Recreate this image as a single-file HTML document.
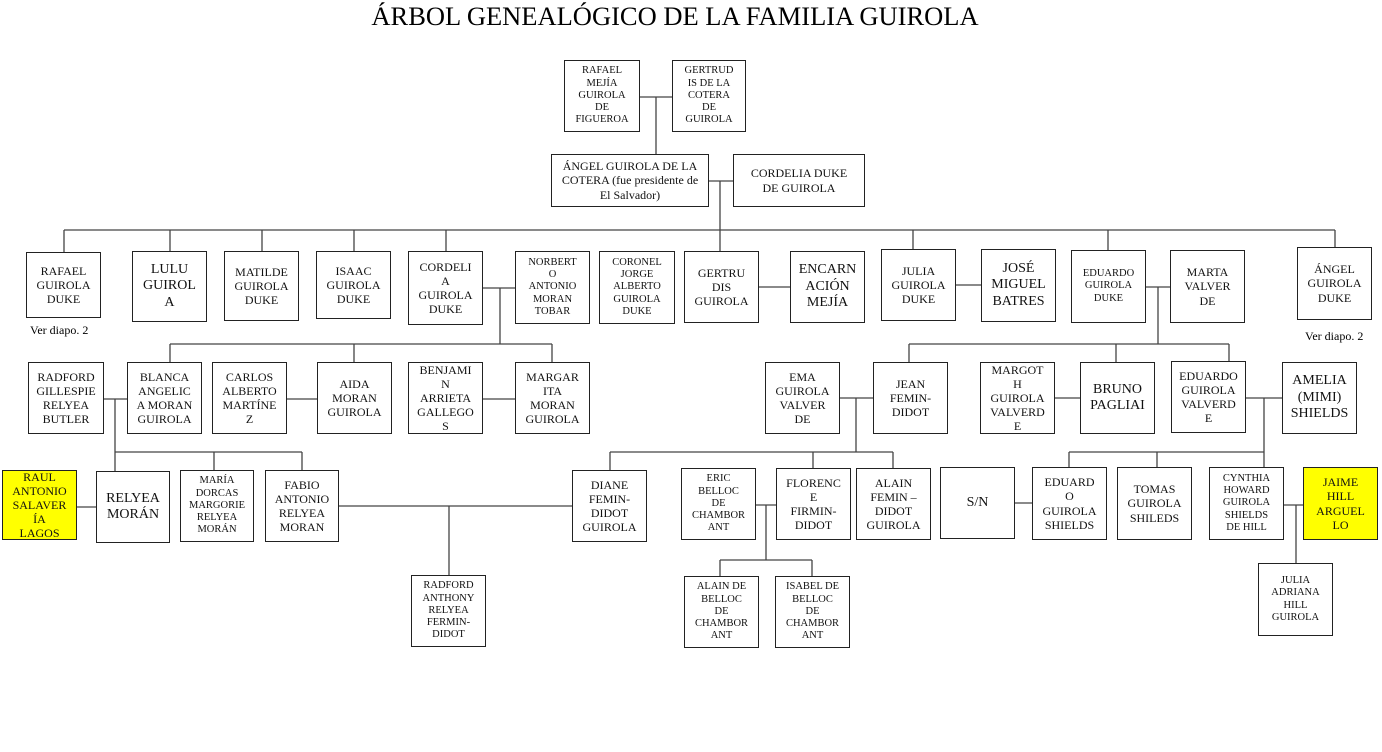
<!DOCTYPE html>
<html><head><meta charset="utf-8"><style>
body{margin:0;width:1382px;height:752px;background:#fff;position:relative;overflow:hidden;font-family:"Liberation Serif",serif;}
.b{position:absolute;box-sizing:border-box;border:1.5px solid #222;display:flex;align-items:center;justify-content:center;text-align:center;font-size:12px;line-height:1.17;color:#111;background:#fff;}
.y{background:#ffff00;}
.l{font-size:14px;}
.s{font-size:10.5px;}
.t{position:absolute;font-size:12px;}
svg{position:absolute;left:0;top:0;}
</style></head><body>
<div style="position:absolute;left:0;width:1350px;top:1px;text-align:center;font-size:26.5px;">ÁRBOL GENEALÓGICO DE LA FAMILIA GUIROLA</div>
<svg width="1382" height="752" stroke="#444" stroke-width="1.3" fill="none">
<path d="M640 97H672M656 97V154M709 181H733M720 181V230M64 230H1335M64 230V252M170 230V251M262 230V251M354 230V251M446 230V251M720 230V251M913 230V249M1108 230V250M1335 230V247"/>
<path d="M483 288H515M500 288V344M170 344H552M170 344V362M354 344V362M552 344V362"/>
<path d="M759 287H790M956 285H981M1146 287H1170M1158 287V344M909 344H1229M909 344V362M1116 344V362M1229 344V361"/>
<path d="M104 399H127M287 399H317M483 399H515M115 399V471M115 452H302M214 452V470M302 452V470M77 507H96"/>
<path d="M339 506H572M449 506V575"/>
<path d="M840 398H873M856 398V452M610 452H893M610 452V470M813 452V468M893 452V468M1055 398H1080M1246 398H1282M1264 398V467M1069 452H1264M1069 452V467M1157 452V467M1015 503H1032"/>
<path d="M756 505H776M766 505V560M720 560H812M720 560V576M812 560V576M1284 505H1303M1296 505V563"/>
</svg>
<div class="b s" style="left:564px;top:60px;width:76px;height:72px">RAFAEL<br>MEJÍA<br>GUIROLA<br>DE<br>FIGUEROA</div>
<div class="b s" style="left:672px;top:60px;width:74px;height:72px">GERTRUD<br>IS DE LA<br>COTERA<br>DE<br>GUIROLA</div>
<div class="b" style="left:551px;top:154px;width:158px;height:53px">ÁNGEL GUIROLA DE LA<br>COTERA (fue presidente de<br>El Salvador)</div>
<div class="b" style="left:733px;top:154px;width:132px;height:53px">CORDELIA DUKE<br>DE GUIROLA</div>

<div class="b" style="left:26px;top:252px;width:75px;height:66px">RAFAEL<br>GUIROLA<br>DUKE</div>
<div class="b l" style="left:132px;top:251px;width:75px;height:71px">LULU<br>GUIROL<br>A</div>
<div class="b" style="left:224px;top:251px;width:75px;height:70px">MATILDE<br>GUIROLA<br>DUKE</div>
<div class="b" style="left:316px;top:251px;width:75px;height:68px">ISAAC<br>GUIROLA<br>DUKE</div>
<div class="b" style="left:408px;top:251px;width:75px;height:74px">CORDELI<br>A<br>GUIROLA<br>DUKE</div>
<div class="b s" style="left:515px;top:251px;width:75px;height:73px">NORBERT<br>O<br>ANTONIO<br>MORAN<br>TOBAR</div>
<div class="b s" style="left:599px;top:251px;width:76px;height:73px">CORONEL<br>JORGE<br>ALBERTO<br>GUIROLA<br>DUKE</div>
<div class="b" style="left:684px;top:251px;width:75px;height:72px">GERTRU<br>DIS<br>GUIROLA</div>
<div class="b l" style="left:790px;top:251px;width:75px;height:72px">ENCARN<br>ACIÓN<br>MEJÍA</div>
<div class="b" style="left:881px;top:249px;width:75px;height:72px">JULIA<br>GUIROLA<br>DUKE</div>
<div class="b l" style="left:981px;top:249px;width:75px;height:73px">JOSÉ<br>MIGUEL<br>BATRES</div>
<div class="b s" style="left:1071px;top:250px;width:75px;height:73px">EDUARDO<br>GUIROLA<br>DUKE</div>
<div class="b" style="left:1170px;top:250px;width:75px;height:73px">MARTA<br>VALVER<br>DE</div>
<div class="b" style="left:1297px;top:247px;width:75px;height:73px">ÁNGEL<br>GUIROLA<br>DUKE</div>
<div class="t" style="left:30px;top:323px">Ver diapo. 2</div>
<div class="t" style="left:1305px;top:329px">Ver diapo. 2</div>

<div class="b" style="left:28px;top:362px;width:76px;height:72px">RADFORD<br>GILLESPIE<br>RELYEA<br>BUTLER</div>
<div class="b" style="left:127px;top:362px;width:75px;height:72px">BLANCA<br>ANGELIC<br>A MORAN<br>GUIROLA</div>
<div class="b" style="left:212px;top:362px;width:75px;height:72px">CARLOS<br>ALBERTO<br>MARTÍNE<br>Z</div>
<div class="b" style="left:317px;top:362px;width:75px;height:72px">AIDA<br>MORAN<br>GUIROLA</div>
<div class="b" style="left:408px;top:362px;width:75px;height:72px">BENJAMI<br>N<br>ARRIETA<br>GALLEGO<br>S</div>
<div class="b" style="left:515px;top:362px;width:75px;height:72px">MARGAR<br>ITA<br>MORAN<br>GUIROLA</div>
<div class="b" style="left:765px;top:362px;width:75px;height:72px">EMA<br>GUIROLA<br>VALVER<br>DE</div>
<div class="b" style="left:873px;top:362px;width:75px;height:72px">JEAN<br>FEMIN-<br>DIDOT</div>
<div class="b" style="left:980px;top:362px;width:75px;height:72px">MARGOT<br>H<br>GUIROLA<br>VALVERD<br>E</div>
<div class="b l" style="left:1080px;top:362px;width:75px;height:72px">BRUNO<br>PAGLIAI</div>
<div class="b" style="left:1171px;top:361px;width:75px;height:72px">EDUARDO<br>GUIROLA<br>VALVERD<br>E</div>
<div class="b l" style="left:1282px;top:362px;width:75px;height:72px">AMELIA<br>(MIMI)<br>SHIELDS</div>

<div class="b y" style="left:2px;top:470px;width:75px;height:70px">RAUL<br>ANTONIO<br>SALAVER<br>ÍA<br>LAGOS</div>
<div class="b l" style="left:96px;top:471px;width:74px;height:72px">RELYEA<br>MORÁN</div>
<div class="b s" style="left:180px;top:470px;width:74px;height:72px">MARÍA<br>DORCAS<br>MARGORIE<br>RELYEA<br>MORÁN</div>
<div class="b" style="left:265px;top:470px;width:74px;height:72px">FABIO<br>ANTONIO<br>RELYEA<br>MORAN</div>
<div class="b" style="left:572px;top:470px;width:75px;height:72px">DIANE<br>FEMIN-<br>DIDOT<br>GUIROLA</div>
<div class="b s" style="left:681px;top:468px;width:75px;height:72px">ERIC<br>BELLOC<br>DE<br>CHAMBOR<br>ANT</div>
<div class="b" style="left:776px;top:468px;width:75px;height:72px">FLORENC<br>E<br>FIRMIN-<br>DIDOT</div>
<div class="b" style="left:856px;top:468px;width:75px;height:72px">ALAIN<br>FEMIN –<br>DIDOT<br>GUIROLA</div>
<div class="b l" style="left:940px;top:467px;width:75px;height:72px">S/N</div>
<div class="b" style="left:1032px;top:467px;width:75px;height:73px">EDUARD<br>O<br>GUIROLA<br>SHIELDS</div>
<div class="b" style="left:1117px;top:467px;width:75px;height:73px">TOMAS<br>GUIROLA<br>SHILEDS</div>
<div class="b s" style="left:1209px;top:467px;width:75px;height:73px">CYNTHIA<br>HOWARD<br>GUIROLA<br>SHIELDS<br>DE HILL</div>
<div class="b y" style="left:1303px;top:467px;width:75px;height:73px">JAIME<br>HILL<br>ARGUEL<br>LO</div>

<div class="b s" style="left:411px;top:575px;width:75px;height:72px">RADFORD<br>ANTHONY<br>RELYEA<br>FERMIN-<br>DIDOT</div>
<div class="b s" style="left:684px;top:576px;width:75px;height:72px">ALAIN DE<br>BELLOC<br>DE<br>CHAMBOR<br>ANT</div>
<div class="b s" style="left:775px;top:576px;width:75px;height:72px">ISABEL DE<br>BELLOC<br>DE<br>CHAMBOR<br>ANT</div>
<div class="b s" style="left:1258px;top:563px;width:75px;height:73px">JULIA<br>ADRIANA<br>HILL<br>GUIROLA</div>
</body></html>
